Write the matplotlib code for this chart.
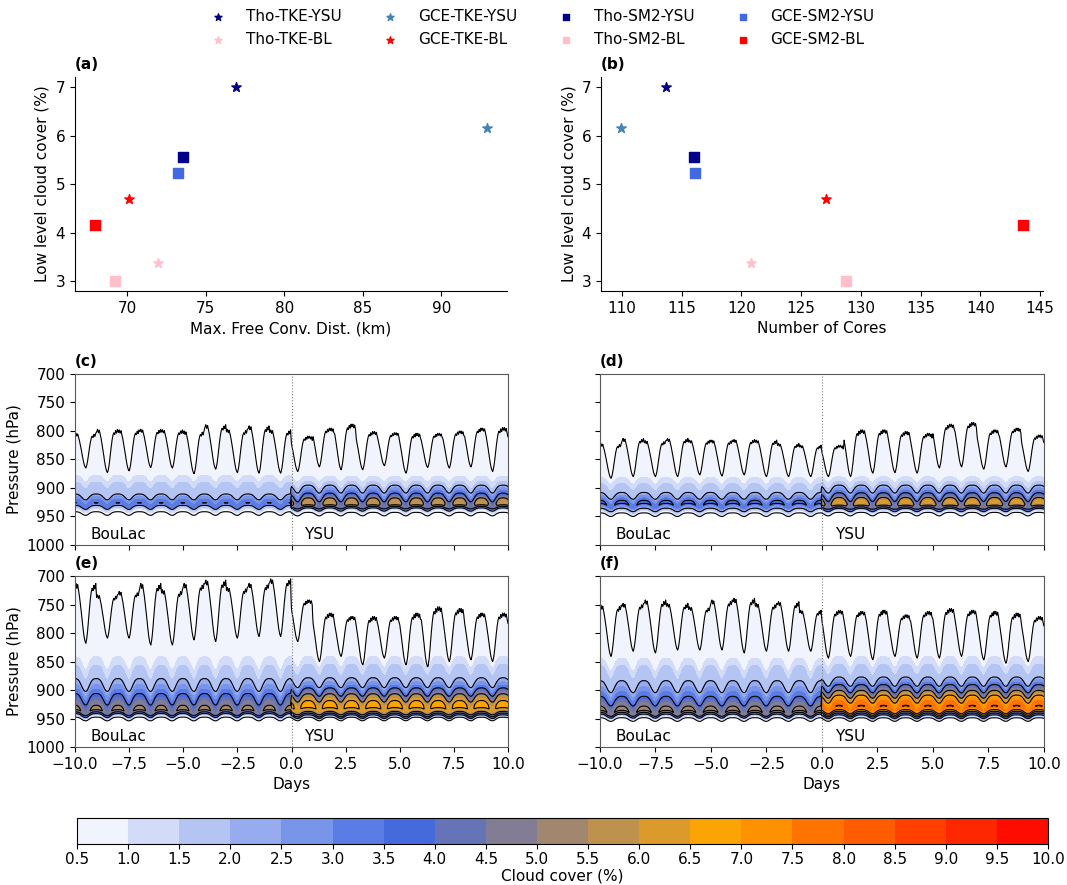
import numpy as np
import matplotlib.pyplot as plt
from matplotlib.colors import LinearSegmentedColormap

plt.rcParams['font.size'] = 11

# ---- sensitivity runs: low cloud cover vs. free convection distance / cores
runs = ['Tho-TKE-YSU', 'Tho-TKE-BL', 'GCE-TKE-YSU', 'GCE-TKE-BL',
        'Tho-SM2-YSU', 'Tho-SM2-BL', 'GCE-SM2-YSU', 'GCE-SM2-BL']
run_colors = ['navy', 'pink', 'steelblue', 'red',
              'darkblue', 'pink', 'royalblue', 'red']
run_markers = ['*', '*', '*', '*', 's', 's', 's', 's']
low_cloud = [7.01, 3.38, 6.15, 4.69, 5.57, 3.00, 5.23, 4.15]
free_conv_dist = [76.96, 71.99, 92.92, 70.15, 73.57, 69.26, 73.23, 67.95]
n_cores = [113.69, 120.79, 109.94, 127.06, 116.07, 128.72, 116.13, 143.55]

# ---- cloud cover composites (BouLac: days -10..0, YSU: days 0..10)
pres = np.arange(700, 1001, 1.0)
levels = np.arange(0.5, 10.01, 0.5)

# hourly shape of the cloud-top cycle: 0 = highest top, 1 = lowest top
daily_shape = [0.06, 0.00, 0.08, 0.02, 0.12, 0.22, 0.35, 0.48, 0.62, 0.76, 0.88, 0.96,
               1.00, 0.92, 0.78, 0.60, 0.42, 0.26, 0.14, 0.08, 0.12, 0.03, 0.09, 0.00]
# hourly cycle of the cloud layer below (1 = lowest and weakest)
layer_shape = [0.00, 0.00, 0.02, 0.05, 0.10, 0.18, 0.30, 0.45, 0.62, 0.78, 0.90, 0.98,
               1.00, 0.95, 0.82, 0.64, 0.45, 0.30, 0.18, 0.10, 0.05, 0.02, 0.00, 0.00]

# daily highest / lowest position of the 0.5 % cloud top (hPa)
c_bl_top_hi = [804, 797, 798, 797, 798, 800, 789, 797, 791, 798]
c_bl_top_lo = [865, 873, 870, 864, 865, 875, 867, 873, 874, 874]
c_ysu_top_hi = [809, 795, 788, 801, 803, 804, 804, 800, 795, 794]
c_ysu_top_lo = [871, 863, 868, 868, 861, 874, 864, 865, 863, 871]
d_bl_top_hi = [822, 813, 817, 813, 816, 816, 815, 816, 822, 825]
d_bl_top_lo = [883, 880, 880, 880, 877, 879, 877, 880, 880, 880]
d_ysu_top_hi = [825, 798, 798, 801, 804, 788, 785, 798, 795, 807]
d_ysu_top_lo = [880, 880, 874, 873, 874, 865, 863, 867, 863, 871]
e_bl_top_hi = [713, 733, 727, 713, 724, 713, 707, 720, 713, 705]
e_bl_top_lo = [818, 809, 809, 821, 821, 812, 815, 809, 806, 806]
e_ysu_top_hi = [742, 765, 771, 771, 771, 765, 754, 757, 765, 765]
e_ysu_top_lo = [815, 850, 841, 856, 844, 856, 859, 850, 847, 850]
f_bl_top_hi = [751, 748, 742, 748, 754, 742, 739, 748, 745, 760]
f_bl_top_lo = [841, 832, 835, 830, 830, 830, 835, 832, 832, 832]
f_ysu_top_hi = [760, 762, 760, 768, 762, 757, 760, 762, 765, 771]
f_ysu_top_lo = [844, 841, 847, 841, 844, 844, 841, 847, 853, 850]

# mean cloud cover profiles below the 1 % level (hPa, %)
c_bl_prof_p = [882, 894, 915, 920, 925, 929, 933, 939, 944, 949]
c_bl_prof_c = [1.0, 1.5, 2.0, 2.7, 3.2, 3.45, 2.0, 1.0, 0.5, 0.0]
c_ysu_prof_p = [883, 893, 900, 908, 915, 920, 926, 931, 934, 937, 940, 945, 950]
c_ysu_prof_c = [1.0, 1.5, 2.0, 2.8, 3.5, 4.5, 5.3, 5.0, 3.5, 2.0, 1.0, 0.5, 0.0]
d_bl_prof_p = [886, 897, 913, 919, 925, 929, 934, 938, 942, 946, 951]
d_bl_prof_c = [1.0, 1.5, 2.0, 2.7, 3.4, 3.6, 2.5, 2.0, 1.0, 0.5, 0.0]
d_ysu_prof_p = [884, 893, 900, 908, 914, 920, 926, 931, 935, 938, 941, 945, 950]
d_ysu_prof_c = [1.0, 1.5, 2.0, 2.8, 3.5, 4.6, 5.7, 5.2, 3.5, 2.0, 1.0, 0.5, 0.0]
e_bl_prof_p = [850, 866, 890, 903, 914, 924, 932, 937, 941, 944, 947, 950, 955]
e_bl_prof_c = [1.0, 1.5, 2.0, 2.8, 3.5, 4.3, 4.8, 5.05, 3.5, 2.0, 1.0, 0.5, 0.0]
e_ysu_prof_p = [848, 862, 886, 895, 902, 907, 912, 918, 925, 931, 936, 940, 943, 946, 948, 950, 953]
e_ysu_prof_c = [1.0, 1.5, 2.0, 2.8, 3.5, 4.3, 5.0, 5.8, 6.6, 6.7, 6.0, 5.0, 3.5, 2.0, 1.0, 0.5, 0.0]
f_bl_prof_p = [853, 866, 893, 905, 918, 928, 935, 938, 942, 945, 948, 951, 955]
f_bl_prof_c = [1.0, 1.5, 2.0, 2.7, 3.5, 4.5, 5.0, 5.2, 3.5, 2.0, 1.0, 0.5, 0.0]
f_ysu_prof_p = [848, 862, 884, 890, 896, 901, 906, 910, 914, 920, 926, 931, 936, 940, 943, 946, 949, 951, 954]
f_ysu_prof_c = [1.0, 1.5, 2.0, 2.8, 3.5, 4.3, 5.0, 5.8, 6.5, 7.2, 7.6, 7.85, 7.0, 5.0, 3.5, 2.0, 1.0, 0.5, 0.0]

# diurnal vertical swing (upper, lower; hPa), core pulsation, hour of lowest top
c_bl_cycle = ([6, 3], 0.04, 12)
c_ysu_cycle = ([5, 3], 0.20, 7)
d_bl_cycle = ([6, 3], 0.08, 12)
d_ysu_cycle = ([5, 3], 0.20, 7)
e_bl_cycle = ([12, 3], 0.11, 12)
e_ysu_cycle = ([10, 3], 0.06, 7)
f_bl_cycle = ([12, 3], 0.08, 12)
f_ysu_cycle = ([10, 3], 0.04, 7)


def half_field(t, top_hi, top_lo, prof_p, prof_c, cycle):
    swing, pulse, trough = cycle
    hours = np.round((t - t[0]) * 24).astype(int)
    s = np.roll(daily_shape, trough - 12)[hours % 24]
    # layer displacement: negative = lifted and strongest, positive = lowered and weakest
    w = 2 * np.roll(layer_shape, trough - 12)[hours % 24] - 0.7
    day = np.minimum(hours // 24, 9)
    hi = np.asarray(top_hi, float)[day]
    lo = np.asarray(top_lo, float)[day]
    top = hi + (lo - hi) * s
    P = pres[:, None]
    amp = np.interp(pres, [prof_p[0], prof_p[-1]], swing)[:, None]
    base = np.interp(P - amp * w, prof_p, prof_c, left=0, right=0)
    base = np.where(base > 1, 1 + (base - 1) * (1 - pulse * w), base)
    p1 = prof_p[0] + swing[0] * w
    tail = 0.5 + 0.5 * (P - top) / np.maximum(p1 - top, 2)
    tail = np.where(P <= p1, tail, 0)
    return np.maximum(base, tail)


t_bl = -10 + np.arange(240) / 24
t_ysu = np.arange(241) / 24
t_all = np.concatenate([t_bl, t_ysu])

panels = [
    ('(c)', [c_bl_top_hi, c_bl_top_lo, c_bl_prof_p, c_bl_prof_c, c_bl_cycle],
            [c_ysu_top_hi, c_ysu_top_lo, c_ysu_prof_p, c_ysu_prof_c, c_ysu_cycle]),
    ('(d)', [d_bl_top_hi, d_bl_top_lo, d_bl_prof_p, d_bl_prof_c, d_bl_cycle],
            [d_ysu_top_hi, d_ysu_top_lo, d_ysu_prof_p, d_ysu_prof_c, d_ysu_cycle]),
    ('(e)', [e_bl_top_hi, e_bl_top_lo, e_bl_prof_p, e_bl_prof_c, e_bl_cycle],
            [e_ysu_top_hi, e_ysu_top_lo, e_ysu_prof_p, e_ysu_prof_c, e_ysu_cycle]),
    ('(f)', [f_bl_top_hi, f_bl_top_lo, f_bl_prof_p, f_bl_prof_c, f_bl_cycle],
            [f_ysu_top_hi, f_ysu_top_lo, f_ysu_prof_p, f_ysu_prof_c, f_ysu_cycle]),
]

cmap = LinearSegmentedColormap.from_list('cloud', ['white', 'royalblue', 'orange', 'red'])

fig = plt.figure(figsize=(10.67, 8.85), dpi=100)

# ---- scatter panels
ax_a = fig.add_axes([0.0703, 0.6712, 0.4049, 0.2418])
ax_b = fig.add_axes([0.5633, 0.6712, 0.4142, 0.2418])
for ax, xs, xlab, tag in [(ax_a, free_conv_dist, 'Max. Free Conv. Dist. (km)', '(a)'),
                          (ax_b, n_cores, 'Number of Cores', '(b)')]:
    for name, c, m, x, y in zip(runs, run_colors, run_markers, xs, low_cloud):
        ax.scatter(x, y, marker=m, color=c, s=50 if m == '*' else 42, label=name)
    ax.spines['top'].set_visible(False)
    ax.spines['right'].set_visible(False)
    ax.set_xlabel(xlab)
    ax.set_ylabel('Low level cloud cover (%)')
    ax.set_title(tag, loc='left', fontweight='bold', fontsize=11)

handles, labels = ax_a.get_legend_handles_labels()
fig.legend(handles, labels, loc='upper center', bbox_to_anchor=(0.505, 1.005), ncol=4,
           frameon=False, markerscale=0.75, columnspacing=2.2, fontsize=11)

# ---- contour panels
boxes = [[0.0703, 0.3842, 0.4058, 0.1932], [0.5623, 0.3842, 0.4161, 0.1932],
         [0.0703, 0.1559, 0.4058, 0.1932], [0.5623, 0.1559, 0.4161, 0.1932]]
for i, (tag, bl, ysu) in enumerate(panels):
    ax = fig.add_axes(boxes[i])
    field = np.hstack([half_field(t_bl, *bl), half_field(t_ysu, *ysu)])
    cf = ax.contourf(t_all, pres, field, levels=levels, cmap=cmap)
    ax.contour(t_all, pres, field, levels=levels[::3], colors='k', linewidths=0.8)
    ax.axvline(0, color='grey', ls=':', lw=0.8)
    ax.text(-9.3, 982, 'BouLac', va='center')
    ax.text(0.6, 982, 'YSU', va='center')
    ax.set_xlim(-10, 10)
    ax.set_ylim(1000, 700)
    ax.set_yticks(np.arange(700, 1001, 50))
    ax.set_xticks(np.arange(-10, 10.1, 2.5))
    ax.set_title(tag, loc='left', fontweight='bold', fontsize=11)
    if i % 2 == 0:
        ax.set_ylabel('Pressure (hPa)')
    else:
        ax.set_yticklabels([])
    if i < 2:
        ax.set_xticklabels([])
    else:
        ax.set_xlabel('Days')
    for sp in ax.spines.values():
        sp.set_color('0.35')

cax = fig.add_axes([0.0722, 0.0463, 0.910, 0.0294])
cb = fig.colorbar(cf, cax=cax, orientation='horizontal', ticks=levels, format='%.1f')
cb.ax.tick_params(pad=2)
cb.set_label('Cloud cover (%)', labelpad=1)

fig.savefig('out.png', dpi=100)
